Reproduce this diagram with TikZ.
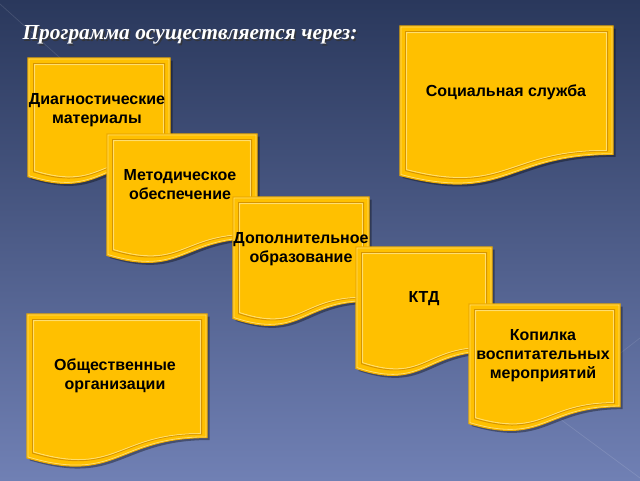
\documentclass[tikz,border=0pt]{standalone}
\usepackage{fontspec}
\setmainfont{Liberation Serif}
\newfontfamily\boxfont{Liberation Sans}
\definecolor{bgtop}{RGB}{42,56,92}
\definecolor{bgbot}{RGB}{112,128,180}
\definecolor{gold}{RGB}{255,192,0}
\definecolor{goldedge}{RGB}{238,172,0}
\definecolor{golddark}{RGB}{214,148,0}
\definecolor{goldlight}{RGB}{255,222,110}
\newcommand\dpath[4]{({#1},{#2}) -- ({(#1)+(#3)},{#2}) -- ({(#1)+(#3)},{(#2)+0.802*(#4)}) .. controls ({(#1)+0.5*(#3)},{(#2)+0.802*(#4)}) and ({(#1)+0.5*(#3)},{(#2)+1.1075*(#4)}) .. ({#1},{(#2)+0.934*(#4)}) -- cycle}
\newcommand\docbox[4]{%
  \fill[black,opacity=0.35,shift={(2.5,2.5)}] \dpath{#1}{#2}{#3}{#4};
  \fill[gold] \dpath{#1}{#2}{#3}{#4};
  \draw[goldedge,line width=1.2] \dpath{#1}{#2}{#3}{#4};
  \draw[goldlight,line width=0.8] \dpath{(#1)+1}{(#2)+1}{(#3)-2}{(#4)-2};
  \draw[golddark,line width=1] \dpath{(#1)+5.5}{(#2)+5.5}{(#3)-11}{(#4)-11};
  \draw[goldlight,line width=1] \dpath{(#1)+6.7}{(#2)+6.7}{(#3)-13.4}{(#4)-13.4};
  \fill[gold] \dpath{(#1)+7.5}{(#2)+7.5}{(#3)-15}{(#4)-15};
}
\tikzset{lbl/.style={font=\boxfont\bfseries\fontsize{16}{19}\selectfont,align=center,text=black,inner sep=0pt}}
\begin{document}
\begin{tikzpicture}[x=1pt,y=-1pt]
\useasboundingbox (0,0) rectangle (640,480);
\shade[top color=bgtop,bottom color=bgbot] (0,0) rectangle (640,480);
\draw[white,opacity=0.12,line width=0.7] (0,4) -- (78,74);
\draw[white,opacity=0.12,line width=0.7] (556,416) -- (640,478);
\draw[white,opacity=0.10,line width=0.7] (640,338) -- (596,372);
% title
\node[text=black!80,opacity=0.8,font=\bfseries\itshape\fontsize{21.4}{25}\selectfont,inner sep=0pt] at (191.5,36.5) {Программа осуществляется через:};
\node (title) [text=white,font=\bfseries\itshape\fontsize{21.4}{25}\selectfont,inner sep=0pt] at (190,35) {Программа осуществляется через:};
% boxes
\docbox{400}{26}{213}{160}
\node[lbl] (soc) at (506,92) {Социальная служба};
\docbox{28}{58}{142}{127}
\node[lbl] (diag) at (97,110) {Диагностические\\материалы};
\docbox{107}{134}{150}{130}
\node[lbl] (met) at (180,185) {Методическое\\обеспечение};
\docbox{233}{197}{136}{130}
\node[lbl] (dop) at (301,249) {Дополнительное\\образование};
\docbox{356}{247}{136}{130}
\node[lbl] (ktd) at (424,299) {КТД};
\docbox{469}{304}{151}{128}
\node[lbl] (kop) at (543,356) {Копилка\\воспитательных\\мероприятий};
\docbox{27}{314}{180}{154}
\node[lbl] (obs) at (115,376) {Общественные\\организации};
\end{tikzpicture}
\end{document}
